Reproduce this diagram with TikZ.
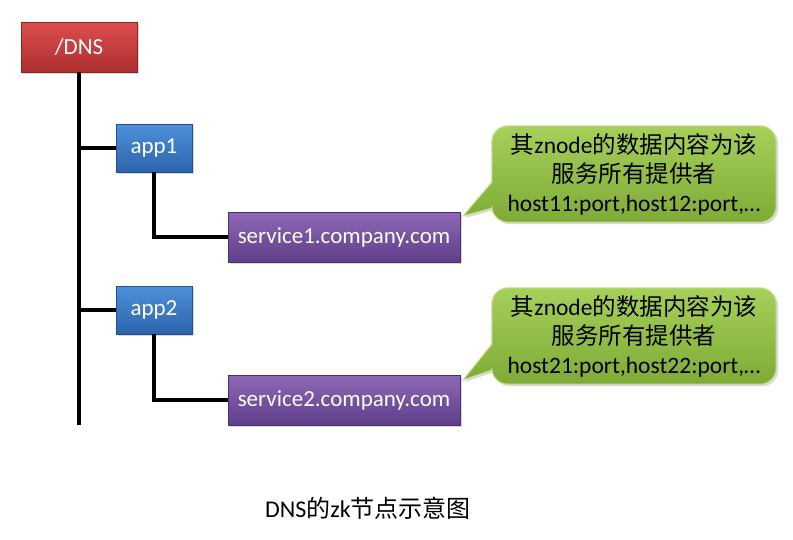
\documentclass[tikz,border=0pt]{standalone}
\usepackage{fontspec}
\setmainfont{Carlito}
\newfontfamily\cjk{Noto Sans CJK SC}
\usetikzlibrary{shadows,backgrounds,calc}
\definecolor{redtop}{HTML}{DC4E4E}
\definecolor{redbot}{HTML}{AE2E2E}
\definecolor{bluetop}{HTML}{4E90DA}
\definecolor{bluebot}{HTML}{2C64AC}
\definecolor{purptop}{HTML}{8E68B6}
\definecolor{purpbot}{HTML}{5E3E8A}
\definecolor{greentop}{HTML}{A6D05A}
\definecolor{greenbot}{HTML}{7FAA36}
\definecolor{greenline}{HTML}{C9E296}
\begin{document}
\begin{tikzpicture}[x=1pt, y=-1pt,
  box/.style={draw, rectangle, line width=0.6pt, text=white,
    font=\fontsize{23}{27}\selectfont,
    drop shadow={opacity=0.3, shadow xshift=2pt, shadow yshift=-2pt}},
  rootbox/.style={box, draw=redbot!80!black, top color=redtop, bottom color=redbot,
    minimum width=116pt, minimum height=50pt},
  appbox/.style={box, draw=bluebot!80!black, top color=bluetop, bottom color=bluebot,
    minimum width=76pt, minimum height=48pt},
  svcbox/.style={box, draw=purpbot!80!black, top color=purptop, bottom color=purpbot,
    minimum width=232pt, minimum height=50pt},
  calloutbox/.style={rectangle, minimum width=284pt, minimum height=96pt, align=center,
    inner sep=0pt, font=\fontsize{23.5}{29}\selectfont},
  calloutbg/.style={draw=greenline, line width=1pt, top color=greentop, bottom color=greenbot,
    drop shadow={opacity=0.3, shadow xshift=2pt, shadow yshift=-2pt}},
  tree/.style={line width=3.2pt}
]
  \useasboundingbox (0,0) rectangle (793,539);

  % tree of znodes
  \node (dns) [rootbox] at (79,47) {/DNS};
  \node (app1) [appbox] at (154,148) {app1};
  \node (svc1) [svcbox] at (344,237) {service1.company.com};
  \node (app2) [appbox] at (154,310) {app2};
  \node (svc2) [svcbox] at (344,400) {service2.company.com};
  \coordinate (stem) at (79,425);

  \draw[tree] (dns.south) -- (stem);
  \draw[tree] (app1.west -| dns.south) -- (app1.west);
  \draw[tree] (app2.west -| dns.south) -- (app2.west);
  \draw[tree] (app1.south) |- (svc1.west);
  \draw[tree] (app2.south) |- (svc2.west);

  % callouts
  \node (note1) [calloutbox] at (634,174) {{\cjk 其}znode{\cjk 的数据内容为该}\\{\cjk 服务所有提供者}\\host11:port,host12:port,…};
  \node (note2) [calloutbox] at (634,336) {{\cjk 其}znode{\cjk 的数据内容为该}\\{\cjk 服务所有提供者}\\host21:port,host22:port,…};
  \coordinate (tip1) at (463,216);
  \coordinate (tip2) at (463,380);
  \begin{scope}[on background layer]
    \foreach \n/\t in {note1/tip1, note2/tip2}
      \draw[calloutbg] ($(\n.south west)+(0,-40)$) [rounded corners=16pt]
        -- (\n.north west) -- (\n.north east) -- (\n.south east) -- (\n.south west)
        [sharp corners] -- ($(\n.south west)+(0,-14)$) -- (\t) -- cycle;
  \end{scope}

  % caption
  \node (caption) [font=\fontsize{24}{28}\selectfont] at (368,508) {DNS{\cjk 的}zk{\cjk 节点示意图}};
\end{tikzpicture}
\end{document}
